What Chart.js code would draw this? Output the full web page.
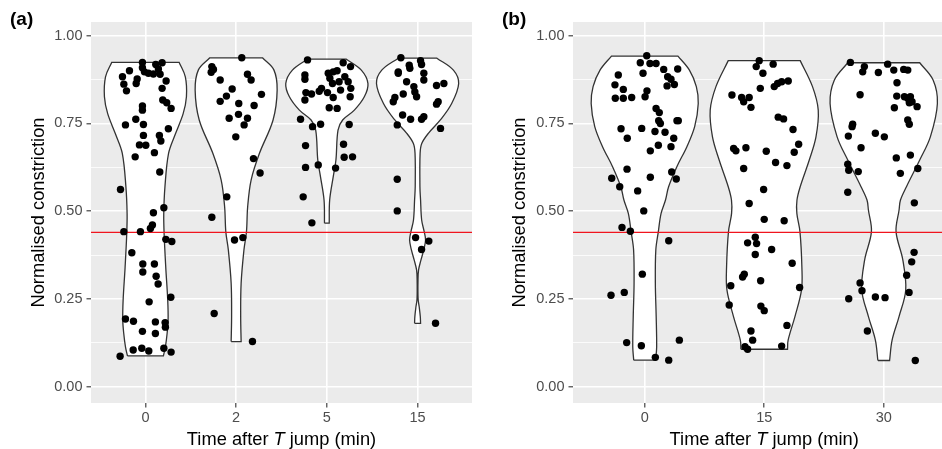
<!DOCTYPE html>
<html>
<head>
<meta charset="utf-8">
<script src="https://cdn.jsdelivr.net/npm/chart.js@4.4.1/dist/chart.umd.min.js"></script>
<style>
html, body { margin: 0; padding: 0; background: #fff; }
#wrap { position: relative; width: 942px; height: 449px; overflow: hidden; }
#ca { position: absolute; left: 0; top: 0; }
#cb { position: absolute; left: 490px; top: 0; }
</style>
</head>
<body>
<div id="wrap">
  <canvas id="ca" width="490" height="449"></canvas>
  <canvas id="cb" width="456" height="449"></canvas>
</div>
<script>
const FONT = '"Liberation Sans", Arial, sans-serif';

// tick labels / categories
const catsA = ['0', '2', '5', '15'];
const catsB = ['0', '15', '30'];
const yGrid = [0, 0.125, 0.25, 0.375, 0.5, 0.625, 0.75, 0.875, 1];
const cutoff = 0.44;

// violin outlines: [y, half width]
const violinA0 = [[0.088,0.198],[0.114,0.22],[0.152,0.239],[0.19,0.25],[0.246,0.246],[0.341,0.224],[0.436,0.206],[0.493,0.202],[0.569,0.215],[0.665,0.255],[0.72,0.33],[0.778,0.416],[0.826,0.452],[0.883,0.44],[0.924,0.372]];
const violinA2 = [[0.129,0.055],[0.2,0.05],[0.295,0.055],[0.39,0.086],[0.442,0.114],[0.513,0.127],[0.589,0.165],[0.665,0.257],[0.76,0.407],[0.845,0.452],[0.902,0.417],[0.937,0.29]];
const violinA5 = [[0.466,0.026],[0.532,0.031],[0.598,0.07],[0.646,0.1],[0.731,0.123],[0.76,0.174],[0.788,0.303],[0.826,0.413],[0.864,0.453],[0.902,0.38],[0.933,0.215]];
const violinA15 = [[0.181,0.033],[0.2,0.03],[0.228,0.018],[0.25,0.006],[0.304,0.005],[0.333,0.011],[0.361,0.037],[0.39,0.068],[0.418,0.088],[0.442,0.073],[0.475,0.045],[0.532,0.033],[0.57,0.026],[0.665,0.028],[0.693,0.046],[0.722,0.119],[0.76,0.251],[0.807,0.376],[0.864,0.453],[0.902,0.395],[0.936,0.213]];
const violinB0 = [[0.076,0.092],[0.114,0.1],[0.2,0.096],[0.295,0.089],[0.39,0.093],[0.442,0.114],[0.494,0.137],[0.532,0.174],[0.57,0.2],[0.627,0.269],[0.684,0.353],[0.741,0.418],[0.807,0.448],[0.855,0.432],[0.902,0.374],[0.942,0.278]];
const violinB15 = [[0.107,0.195],[0.133,0.2],[0.2,0.257],[0.276,0.312],[0.342,0.315],[0.442,0.299],[0.494,0.273],[0.532,0.274],[0.57,0.301],[0.646,0.377],[0.712,0.433],[0.788,0.452],[0.855,0.404],[0.929,0.301]];
const violinB30 = [[0.075,0.049],[0.133,0.07],[0.2,0.128],[0.276,0.184],[0.361,0.16],[0.442,0.103],[0.503,0.128],[0.532,0.14],[0.57,0.19],[0.646,0.301],[0.712,0.39],[0.807,0.449],[0.874,0.413],[0.923,0.301]];

// jittered observations: [x offset from category, y]
const ptsA0 = [[-0.033,0.924],[-0.033,0.909],[-0.011,0.897],[0.033,0.893],[0.088,0.891],[0.114,0.918],[0.184,0.923],[0.143,0.905],[0.162,0.89],[-0.176,0.9],[-0.253,0.883],[-0.238,0.862],[-0.209,0.843],[-0.091,0.877],[-0.102,0.864],[0.228,0.871],[0.184,0.85],[0.191,0.817],[0.235,0.809],[0.283,0.793],[-0.033,0.8],[-0.033,0.788],[-0.22,0.746],[-0.106,0.762],[-0.022,0.747],[0.253,0.735],[-0.022,0.716],[-0.066,0.689],[0.004,0.688],[0.154,0.716],[0.17,0.7],[-0.113,0.655],[0.099,0.667],[0.158,0.612],[-0.275,0.562],[0.203,0.51],[0.088,0.496],[0.077,0.461],[0.055,0.451],[-0.238,0.442],[-0.055,0.442],[0.225,0.42],[0.291,0.414],[-0.15,0.382],[-0.029,0.35],[0.099,0.35],[-0.029,0.327],[0.118,0.315],[0.14,0.293],[0.28,0.255],[0.041,0.242],[-0.22,0.193],[-0.132,0.187],[0.11,0.185],[0.217,0.183],[0.22,0.17],[-0.033,0.158],[0.11,0.152],[-0.135,0.105],[-0.04,0.11],[0.037,0.102],[0.203,0.11],[0.283,0.099],[-0.279,0.087]];
const ptsA2 = [[0.062,0.937],[-0.268,0.912],[-0.25,0.904],[-0.275,0.896],[-0.176,0.874],[0.125,0.89],[0.165,0.874],[-0.044,0.848],[-0.107,0.828],[-0.176,0.813],[0.029,0.807],[0.279,0.833],[0.198,0.801],[-0.077,0.765],[0.026,0.776],[0.125,0.765],[0.088,0.746],[-0.004,0.712],[0.191,0.65],[0.264,0.609],[-0.103,0.541],[-0.268,0.483],[-0.018,0.418],[0.074,0.425],[-0.242,0.209],[0.18,0.129]];
const ptsA5 = [[-0.213,0.931],[0.18,0.923],[0.261,0.912],[-0.242,0.888],[-0.242,0.876],[0.015,0.893],[0.07,0.897],[0.113,0.9],[0.033,0.879],[0.198,0.883],[0.235,0.869],[0.062,0.864],[0.135,0.869],[0.264,0.85],[-0.059,0.85],[-0.084,0.842],[0.007,0.838],[0.151,0.845],[-0.231,0.838],[-0.169,0.834],[-0.242,0.817],[0.07,0.824],[0.257,0.826],[0.026,0.795],[0.113,0.793],[-0.29,0.762],[-0.158,0.741],[-0.069,0.748],[0.246,0.747],[-0.235,0.687],[0.184,0.691],[0.191,0.654],[0.283,0.655],[-0.235,0.625],[-0.095,0.632],[0.096,0.623],[-0.261,0.541],[-0.165,0.467]];
const ptsA15 = [[-0.184,0.937],[-0.092,0.916],[-0.085,0.907],[0.033,0.929],[0.044,0.918],[0.069,0.893],[0.069,0.874],[-0.213,0.897],[-0.213,0.893],[-0.121,0.869],[-0.041,0.855],[-0.03,0.84],[-0.011,0.826],[-0.158,0.834],[-0.25,0.824],[-0.268,0.812],[0.209,0.858],[0.29,0.864],[0.209,0.805],[0.227,0.812],[-0.165,0.774],[-0.077,0.762],[0.044,0.762],[0.069,0.769],[-0.224,0.746],[0.253,0.736],[-0.224,0.591],[-0.224,0.501],[-0.022,0.425],[0.124,0.415],[0.044,0.391],[0.198,0.181]];
const ptsB0 = [[0.017,0.943],[-0.037,0.923],[0.044,0.921],[0.095,0.921],[-0.014,0.893],[0.159,0.904],[0.276,0.905],[0.192,0.883],[0.22,0.876],[0.248,0.861],[0.187,0.857],[-0.221,0.888],[-0.249,0.86],[-0.179,0.847],[-0.246,0.822],[-0.179,0.822],[-0.109,0.824],[0.019,0.843],[0.003,0.826],[0.095,0.793],[0.122,0.781],[0.117,0.758],[0.131,0.75],[0.27,0.758],[0.281,0.758],[-0.198,0.735],[-0.025,0.736],[0.086,0.727],[0.17,0.725],[0.243,0.708],[-0.146,0.708],[0.114,0.688],[0.22,0.684],[0.047,0.672],[-0.148,0.62],[0.226,0.612],[0.047,0.597],[-0.276,0.594],[0.264,0.592],[-0.209,0.57],[-0.059,0.558],[-0.008,0.501],[-0.19,0.454],[-0.12,0.443],[0.201,0.416],[-0.02,0.321],[-0.282,0.261],[-0.171,0.269],[-0.151,0.126],[-0.028,0.117],[0.29,0.133],[0.089,0.084],[0.201,0.076]];
const ptsB15 = [[-0.27,0.831],[-0.189,0.824],[-0.172,0.812],[-0.126,0.824],[-0.111,0.796],[-0.256,0.679],[-0.237,0.672],[-0.153,0.681],[-0.172,0.622],[-0.126,0.522],[-0.067,0.912],[-0.042,0.929],[-0.011,0.893],[0.075,0.919],[-0.033,0.85],[0.084,0.855],[0.112,0.864],[0.146,0.869],[0.201,0.871],[0.117,0.768],[0.162,0.763],[0.241,0.733],[0.288,0.691],[0.251,0.668],[0.017,0.671],[0.095,0.639],[0.19,0.63],[-0.005,0.562],[0,0.477],[0.167,0.473],[-0.139,0.41],[-0.075,0.426],[-0.064,0.408],[0.062,0.391],[-0.075,0.377],[0.234,0.352],[-0.03,0.302],[0.296,0.283],[-0.028,0.23],[0,0.217],[0.19,0.175],[-0.111,0.159],[-0.097,0.133],[0.146,0.116],[-0.167,0.321],[-0.181,0.313],[-0.28,0.288],[-0.293,0.233],[-0.161,0.114],[-0.139,0.107]];
const ptsB30 = [[-0.279,0.924],[-0.162,0.912],[-0.176,0.897],[-0.045,0.895],[0.033,0.919],[0.084,0.902],[0.167,0.904],[0.201,0.902],[0.111,0.866],[-0.198,0.832],[0.109,0.828],[0.173,0.826],[0.201,0.822],[0.223,0.826],[0.237,0.812],[0.214,0.809],[0.279,0.798],[0.089,0.795],[0.201,0.76],[0.214,0.748],[-0.26,0.748],[-0.265,0.741],[-0.296,0.714],[-0.07,0.722],[0.005,0.712],[-0.19,0.681],[0.105,0.652],[0.223,0.66],[-0.301,0.634],[-0.293,0.617],[-0.213,0.613],[0.139,0.608],[0.285,0.622],[-0.301,0.554],[0.256,0.524],[0.254,0.383],[0.234,0.356],[0.192,0.318],[0.212,0.269],[-0.198,0.296],[-0.182,0.274],[-0.293,0.251],[-0.07,0.256],[0.011,0.254],[-0.137,0.159],[0.264,0.075]];

// closed outline for one violin; corner points doubled so the flat ends stay square
function outline(prof, cx) {
    const L = prof.map(p => ({x: cx - p[1], y: p[0]}));
    const R = prof.slice().reverse().map(p => ({x: cx + p[1], y: p[0]}));
    return [L[0], ...L, L[L.length - 1], R[0], ...R, R[R.length - 1], L[0]];
}

function makeData(violins, points, xmax) {
    const ds = [];
    const pts = [];
    points.forEach((arr, i) => arr.forEach(p => pts.push({x: i + 1 + p[0], y: p[1]})));
    ds.push({type: 'scatter', data: pts, pointRadius: 3.7, pointHoverRadius: 3.7,
        backgroundColor: '#000', borderWidth: 0, order: 0});
    ds.push({type: 'line', data: [{x: 0.4, y: cutoff}, {x: xmax, y: cutoff}],
        borderColor: '#f0141e', borderWidth: 1.3, pointRadius: 0, fill: false, order: 1});
    violins.forEach((v, i) => {
        ds.push({type: 'line', data: outline(v, i + 1), borderColor: '#333333', borderWidth: 1.3,
            backgroundColor: '#ffffff', fill: 'shape', tension: 0.35, pointRadius: 0, order: 2});
    });
    return {datasets: ds};
}

const isMajor = v => Math.abs(v * 4 - Math.round(v * 4)) < 1e-6;

function makeScales(cats, xmax, yw) {
    return {
        x: {
            type: 'linear', min: 0.4, max: xmax,
            afterBuildTicks: s => { s.ticks = cats.map((c, i) => ({value: i + 1})); },
            afterFit: s => { s.height = 46; },
            grid: {color: '#ffffff', lineWidth: 1.6, tickColor: '#333333', tickLength: 4.5, tickWidth: 1.1},
            border: {display: false},
            ticks: {color: '#4d4d4d', font: {family: FONT, size: 14.5}, padding: 2, autoSkip: false,
                maxRotation: 0, callback: v => cats[Math.round(v) - 1]}
        },
        y: {
            type: 'linear', min: -0.046, max: 1.039,
            afterBuildTicks: s => { s.ticks = yGrid.map(v => ({value: v})); },
            afterFit: s => { s.width = yw; },
            grid: {color: '#ffffff', lineWidth: c => isMajor(c.tick.value) ? 1.6 : 0.8,
                tickColor: c => isMajor(c.tick.value) ? '#333333' : 'rgba(0,0,0,0)',
                tickLength: 4.5, tickWidth: 1.1},
            border: {display: false},
            ticks: {color: '#4d4d4d', font: {family: FONT, size: 14.5}, padding: 4,
                callback: v => isMajor(v) ? v.toFixed(2) : ''}
        }
    };
}

const decor = {
    id: 'decor',
    beforeDraw(chart) {
        const {ctx, chartArea: a} = chart;
        ctx.save();
        ctx.fillStyle = '#ebebeb';
        ctx.fillRect(a.left, a.top, a.right - a.left, a.bottom - a.top);
        ctx.restore();
    },
    afterDraw(chart, args, o) {
        const {ctx, chartArea: a} = chart;
        ctx.save();
        ctx.fillStyle = '#000';
        ctx.textBaseline = 'middle';
        ctx.textAlign = 'left';
        ctx.font = 'bold 19px ' + FONT;
        ctx.fillText(o.tag, o.tagX, 20);

        // x title with italic T
        const parts = [['Time after ', ''], ['T', 'italic '], [' jump (min)', '']];
        let w = 0;
        parts.forEach(p => { ctx.font = p[1] + '18.3px ' + FONT; w += ctx.measureText(p[0]).width; });
        let x = chart.scales.x.getPixelForValue((1 + o.n) / 2) - w / 2;
        parts.forEach(p => {
            ctx.font = p[1] + '18.3px ' + FONT;
            ctx.fillText(p[0], x, 440);
            x += ctx.measureText(p[0]).width;
        });

        ctx.translate(o.yTitleX, (a.top + a.bottom) / 2);
        ctx.rotate(-Math.PI / 2);
        ctx.textAlign = 'center';
        ctx.font = '18.3px ' + FONT;
        ctx.fillText('Normalised constriction', 0, 0);
        ctx.restore();
    }
};

function panel(id, cats, violins, points, xmax, yw, padRight, tag, tagX, yTitleX) {
    new Chart(document.getElementById(id).getContext('2d'), {
        type: 'scatter',
        data: makeData(violins, points, xmax),
        options: {
            responsive: false,
            animation: false,
            devicePixelRatio: 1,
            layout: {padding: {top: 22, right: padRight, left: 0, bottom: 0}},
            scales: makeScales(cats, xmax, yw),
            plugins: {
                legend: {display: false},
                tooltip: {enabled: false},
                decor: {tag: tag, tagX: tagX, yTitleX: yTitleX, n: cats.length}
            }
        },
        plugins: [decor]
    });
}

panel('ca', catsA, [violinA0, violinA2, violinA5, violinA15], [ptsA0, ptsA2, ptsA5, ptsA15],
    4.6, 91, 18, '(a)', 10, 39);
panel('cb', catsB, [violinB0, violinB15, violinB30], [ptsB0, ptsB15, ptsB30],
    3.49, 83, 0, '(b)', 12, 30);
</script>
</body>
</html>
